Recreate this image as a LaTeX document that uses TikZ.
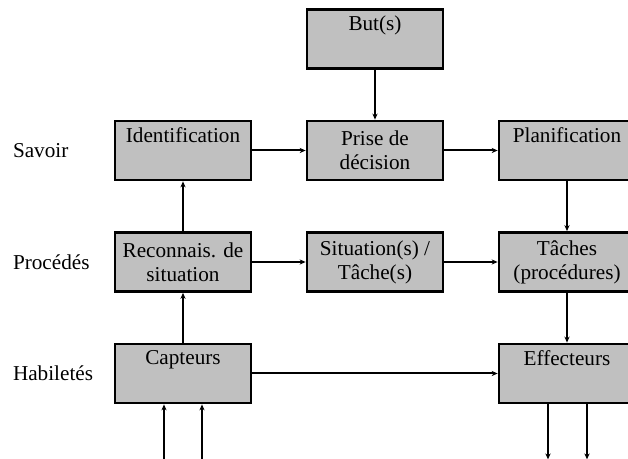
\documentclass[tikz,border=0pt]{standalone}
\usepackage{fontspec}
\setmainfont{Liberation Serif}
\usetikzlibrary{arrows.meta,positioning}
\definecolor{boxgray}{RGB}{192,192,192}

\begin{document}
\begin{tikzpicture}[x=0.5pt,y=-0.5pt,node distance=55.75pt and 96pt,on grid,
>={Stealth[length=3pt,width=2.6pt]},
line width=1pt,
every node/.style={font=\fontsize{10.6}{12}\selectfont},
block/.style={draw,fill=boxgray,line width=1.4pt,minimum width=68pt,
    minimum height=29.5pt,inner sep=0pt,align=center},
level/.style={anchor=west,inner sep=0pt}
    ]
\clip (0,0) rectangle (628,459);
\node[block] (Ident) at (183,150.5) {Identification\\\strut};
\node[block] (Prise) [right=of Ident] {Prise de\\décision};
\node[block] (Planif) [right=of Prise] {Planification\\\strut};
\node[block] (Buts) [above=of Prise] {But(s)\\\strut};
\node[block] (Reco) [below=of Ident] {Reconnais. de\\situation};
\node[block] (Situ) [right=of Reco] {Situation(s) /\\Tâche(s)};
\node[block] (Taches) [right=of Situ] {Tâches\\(procédures)};
\node[block] (Capt) [below=of Reco] {Capteurs\\\strut};
\node[block] (Effec) [below=of Taches] {Effecteurs\\\strut};

% niveaux
\node[level] (Savoir) at (Ident -| 12,0) {Savoir};
\node[level] (Proc) at (Reco -| 12,0) {Procédés};
\node[level] (Habil) at (Capt -| 12,0) {Habiletés};

% entrees / sorties
\coordinate (in1) at ([xshift=-9.5pt,yshift=-30pt]Capt.south);
\coordinate (in2) at ([xshift=9.5pt,yshift=-30pt]Capt.south);
\coordinate (out1) at ([xshift=-9.5pt,yshift=-27.5pt]Effec.south);
\coordinate (out2) at ([xshift=10pt,yshift=-27.5pt]Effec.south);

\path[->]
     (Buts) edge (Prise)
     (Ident) edge (Prise)
     (Prise) edge (Planif)
     (Planif) edge (Taches)
     (Reco) edge (Situ)
            edge (Ident)
     (Situ) edge (Taches)
     (Taches) edge (Effec)
     (Capt) edge (Reco)
            edge (Effec)
     (in1) edge (Capt.south -| in1)
     (in2) edge (Capt.south -| in2)
     (Effec.south -| out1) edge (out1)
     (Effec.south -| out2) edge (out2);
\end{tikzpicture}
\end{document}
